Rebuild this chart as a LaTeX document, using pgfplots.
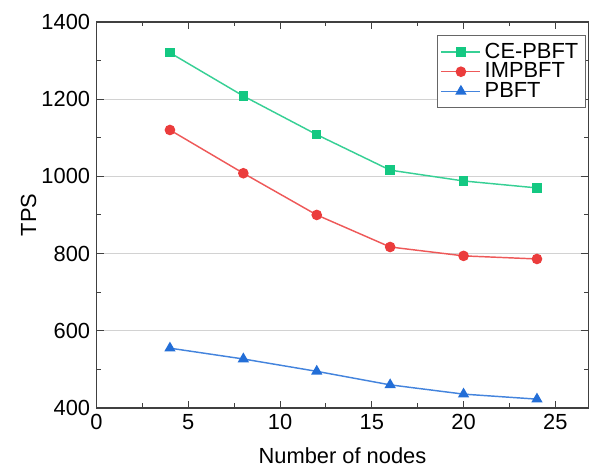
\documentclass[border=0pt]{standalone}
\usepackage{fontspec}
\setmainfont{Liberation Sans}
\usepackage{pgfplots}
\pgfplotsset{compat=1.18}
\usetikzlibrary{calc}

\definecolor{cegreen}{RGB}{20,200,130}
\definecolor{imred}{RGB}{235,60,60}
\definecolor{pbblue}{RGB}{35,110,215}

\begin{document}
\begin{tikzpicture}
  \begin{axis}[
    scale only axis,
    width=270pt, height=212pt,
    xmin=0, xmax=26.8, ymin=400, ymax=1400,
    xtick={0,5,10,15,20,25}, ytick={400,600,...,1400},
    minor x tick num=1, minor y tick num=1,
    tick align=inside, major tick length=4pt, minor tick length=2.5pt,
    axis line style={line width=0.8pt, black!75},
    tick style={line width=0.6pt, black!75},
    ymajorgrids, grid style={gray!35, line width=0.5pt},
    xlabel={Number of nodes}, ylabel={TPS},
    /pgf/number format/assume math mode=true,
    /pgf/number format/1000 sep={},
    tick label style={font=\large},
    label style={font=\large},
    xlabel style={yshift=-3pt},
    ylabel style={yshift=-4pt},
    legend style={at={(0.995,0.965)}, anchor=north east, draw=black!60,
      font=\large, row sep=-3pt, inner sep=2pt},
    legend cell align=left,
    legend image code/.code={
      \draw[#1] (0cm,0cm) -- (0.75cm,0cm);
      \draw[#1, mark repeat=2, mark phase=2] plot coordinates {(0cm,0cm) (0.375cm,0cm) (0.75cm,0cm)};
    },
  ]
    \addplot[color=cegreen!85, line width=0.8pt, mark=square*, mark size=2.2pt,
      mark options={fill=cegreen, draw=cegreen}]
      coordinates {(4,1320) (8,1208) (12,1108) (16,1016) (20,988) (24,970)};
    \addlegendentry{CE-PBFT}
    \addplot[color=imred!85, line width=0.8pt, mark=*, mark size=2.5pt,
      mark options={fill=imred, draw=imred}]
      coordinates {(4,1120) (8,1008) (12,900) (16,817) (20,794) (24,786)};
    \addlegendentry{IMPBFT}
    \addplot[color=pbblue!85, line width=0.8pt, mark=triangle*, mark size=2.8pt,
      mark options={fill=pbblue, draw=pbblue}]
      coordinates {(4,555) (8,527) (12,495) (16,460) (20,436) (24,423)};
    \addlegendentry{PBFT}
  \end{axis}
  \path ($(current axis.south west)+(-53pt,-31pt)$) rectangle ($(current axis.north east)+(2pt,12pt)$);
\end{tikzpicture}
\end{document}
